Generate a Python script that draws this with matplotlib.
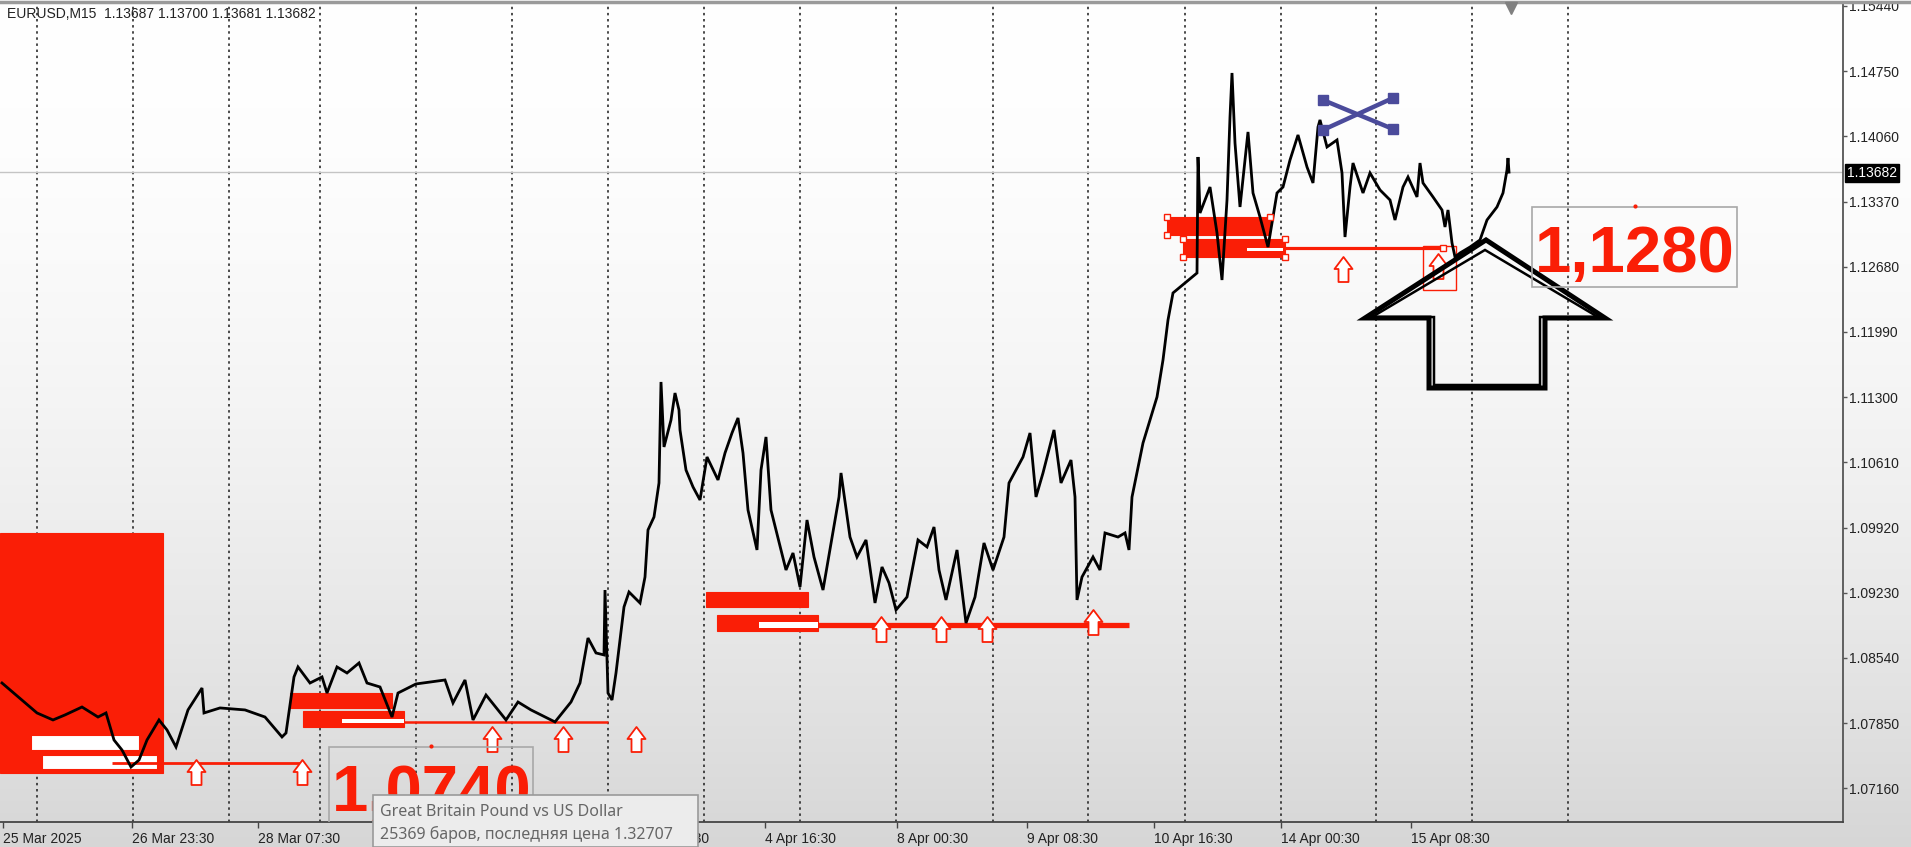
import numpy as np
import matplotlib
matplotlib.use("Agg")
import matplotlib.pyplot as plt
from matplotlib.path import Path
from matplotlib.patches import Rectangle, Polygon

# ---------------- data ----------------
bar_index = [2, 16, 37, 53, 65, 82, 98, 106, 114, 122, 131, 139, 147, 159, 167, 176, 188, 202, 204, 220,
             245, 265, 282, 286, 294, 298, 310, 322, 327, 337, 347, 359, 367, 380, 392, 398, 416, 445, 453, 465,
             473, 486, 506, 518, 531, 555, 571, 580, 588, 596, 604, 605, 608, 612, 616, 624, 629, 640, 645, 648,
             654, 659, 661, 664, 671, 675, 679, 680, 686, 693, 700, 707, 718, 725, 732, 738, 743, 748, 757, 761,
             766, 771, 786, 793, 800, 807, 814, 823, 839, 841, 850, 857, 866, 875, 882, 889, 896, 907, 918, 927,
             934, 939, 946, 957, 966, 975, 984, 993, 1004, 1009, 1023, 1030, 1036, 1043, 1054, 1061, 1071, 1075, 1077, 1082,
             1093, 1100, 1105, 1118, 1125, 1129, 1132, 1143, 1157, 1163, 1168, 1173, 1197, 1198, 1200, 1210, 1217, 1222, 1227, 1230,
             1232, 1235, 1240, 1248, 1253, 1260, 1268, 1277, 1283, 1290, 1298, 1307, 1313, 1318, 1320, 1327, 1337, 1342, 1345, 1350,
             1353, 1363, 1370, 1380, 1390, 1395, 1403, 1408, 1417, 1420, 1423, 1433, 1442, 1445, 1448, 1452, 1455, 1460, 1470, 1480,
             1487, 1497, 1503, 1507, 1508, 1509]
close_price = [1.08275, 1.08148, 1.07958, 1.07884, 1.07937, 1.08021, 1.07915, 1.07958, 1.07672, 1.07566,
               1.07386, 1.07460, 1.07672, 1.07884, 1.07778, 1.07598, 1.07990, 1.08222, 1.07958, 1.08011,
               1.07990, 1.07915, 1.07704, 1.07746, 1.08339, 1.08445, 1.08275, 1.08339, 1.08169, 1.08445,
               1.08381, 1.08487, 1.08275, 1.08233, 1.07915, 1.08169, 1.08265, 1.08307, 1.08064, 1.08307,
               1.07884, 1.08148, 1.07884, 1.08074, 1.07990, 1.07863, 1.08074, 1.08275, 1.08751, 1.08593,
               1.08572, 1.09259, 1.08169, 1.08095, 1.08381, 1.09080, 1.09238, 1.09122, 1.09397, 1.09895,
               1.10032, 1.10392, 1.11461, 1.10773, 1.11059, 1.11344, 1.11164, 1.10953, 1.10529, 1.10350,
               1.10212, 1.10667, 1.10424, 1.10709, 1.10921, 1.11080, 1.10709, 1.10106, 1.09683, 1.10529,
               1.10879, 1.10106, 1.09471, 1.09651, 1.09291, 1.10000, 1.09609, 1.09259, 1.10244, 1.10498,
               1.09820, 1.09609, 1.09789, 1.09122, 1.09503, 1.09334, 1.09048, 1.09185, 1.09789, 1.09715,
               1.09926, 1.09471, 1.09154, 1.09683, 1.08910, 1.09185, 1.09757, 1.09471, 1.09820, 1.10392,
               1.10667, 1.10921, 1.10244, 1.10498, 1.10953, 1.10392, 1.10635, 1.10244, 1.09154, 1.09397,
               1.09609, 1.09471, 1.09863, 1.09820, 1.09863, 1.09683, 1.10243, 1.10815, 1.11302, 1.11694,
               1.12117, 1.12403, 1.12614, 1.13842, 1.13249, 1.13524, 1.13038, 1.12540, 1.13387, 1.14265,
               1.14731, 1.13990, 1.13313, 1.14107, 1.13461, 1.13207, 1.12889, 1.13461, 1.13524, 1.13810,
               1.14075, 1.13736, 1.13567, 1.14159, 1.14234, 1.13948, 1.14022, 1.13673, 1.12995, 1.13524,
               1.13778, 1.13461, 1.13673, 1.13493, 1.13387, 1.13175, 1.13524, 1.13630, 1.13419, 1.13778,
               1.13567, 1.13419, 1.13281, 1.13101, 1.13281, 1.12932, 1.12784, 1.12826, 1.12889, 1.12964,
               1.13175, 1.13313, 1.13461, 1.13704, 1.13831, 1.13682]

price_ticks = [1.15440, 1.14750, 1.14060, 1.13370, 1.12680, 1.11990, 1.11300,
               1.10610, 1.09920, 1.09230, 1.08540, 1.07850, 1.07160]
time_tick_bars = [3, 132, 258, 638, 765, 897, 1027, 1154, 1281, 1411]
time_tick_labels = ["25 Mar 2025", "26 Mar 23:30", "28 Mar 07:30", "3 Apr 08:30", "4 Apr 16:30",
                    "8 Apr 00:30", "9 Apr 08:30", "10 Apr 16:30", "14 Apr 00:30", "15 Apr 08:30"]
day_separator_bars = [37, 133, 229, 320, 416, 512, 608, 704, 800, 896, 993, 1088, 1185,
                      1281, 1376, 1472, 1568]
last_price = 1.13682
header_text = "EURUSD,M15  1.13687 1.13700 1.13681 1.13682"
tooltip_line1 = "Great Britain Pound vs US Dollar"
tooltip_line2 = "25369 баров, последняя цена 1.32707"

# red zones
zone_x0 = [0, 290, 303, 706, 717, 1167, 1183]
zone_x1 = [163, 392, 404, 808, 818, 1270, 1285]
zone_top = [1.09863, 1.08169, 1.07979, 1.09238, 1.08995, 1.13207, 1.12974]
zone_bot = [1.07323, 1.08011, 1.07810, 1.09080, 1.08826, 1.13016, 1.12784]
# white strips inside zones
strip_x0 = [342, 759, 1247]
strip_x1 = [404, 818, 1283]
strip_top = [1.07894, 1.08921, 1.12879]
strip_bot = [1.07852, 1.08857, 1.12847]
# white bars with red outline inside the big zone
wbar_x0 = [31, 42]
wbar_x1 = [140, 158]
wbar_top = [1.07725, 1.07513]
wbar_bot = [1.07556, 1.07355]
# horizontal levels
level_x0 = [112, 404, 818, 1285]
level_x1 = [302, 608, 1129, 1443]
level_price = [1.07429, 1.07863, 1.08894, 1.12874]
# up arrows
arrow_bar = [196, 302, 492, 563, 636, 881, 941, 987, 1093, 1343, 1438]
arrow_price = [1.07333, 1.07333, 1.07683, 1.07683, 1.07683, 1.08847, 1.08847, 1.08847,
               1.08921, 1.12657, 1.12688]
# cross mark
cross_bar = [1323, 1393]
cross_price_a = [1.14128, 1.14466]
cross_price_b = [1.14445, 1.14138]
# big hand-drawn arrow outline
big_arrow_bar = [1486, 1605, 1545, 1545, 1429, 1429, 1365]
big_arrow_price = [1.12964, 1.12138, 1.12138, 1.11397, 1.11397, 1.12138, 1.12138]
big_arrow2_bar = [1485, 1598, 1540, 1540, 1434, 1434, 1372]
big_arrow2_price = [1.12858, 1.12148, 1.12148, 1.11429, 1.11429, 1.12148, 1.12148]
# price text labels
label_text = ["1,1280", "1,0740"]
label_bar = [1535, 332]
label_price = [1.12625, 1.06921]
label_box_x0 = [1532, 329]
label_box_x1 = [1737, 533]
label_box_top = [1.13313, 1.07598]
label_box_bot = [1.12466, 1.06700]

# ---------------- figure ----------------
W, H = 1911, 847
RED = "#fa1e06"
fig = plt.figure(figsize=(W / 100, H / 100), dpi=100)

bgax = fig.add_axes([0, 0, 1, 1], zorder=-10)
t = np.linspace(0, 1, 400)
g = 1 - 0.16 * t ** 1.8
bgax.imshow(np.dstack([g, g, g]).reshape(400, 1, 3), aspect="auto", extent=[0, 1, 0, 1],
            origin="upper")
bgax.set_axis_off()

ax_left, ax_right, ax_top, ax_bottom = 0, 1843, 4, 822
ax = fig.add_axes([ax_left / W, 1 - ax_bottom / H, (ax_right - ax_left) / W, (ax_bottom - ax_top) / H])
ax.patch.set_alpha(0)
ax.set_xlim(0, 1843)
ymin, ymax = 1.06804, 1.15461
ax.set_ylim(ymin, ymax)

for s in ["left", "top"]:
    ax.spines[s].set_visible(False)
ax.spines["right"].set_color("#555555")
ax.spines["right"].set_linewidth(1.3)
ax.spines["bottom"].set_color("#444444")
ax.spines["bottom"].set_linewidth(1.3)

ax.yaxis.tick_right()
ax.set_yticks(price_ticks)
ax.set_yticklabels([f"{p:.5f}" for p in price_ticks])
ax.tick_params(axis="y", length=3, width=1, color="#555555", pad=1.5, labelsize=10,
               labelcolor="#222222")
ax.set_xticks(time_tick_bars)
ax.set_xticklabels(time_tick_labels)
for lab in ax.get_xticklabels():
    lab.set_horizontalalignment("left")
ax.tick_params(axis="x", length=4, width=1, color="#444444", pad=3, labelsize=10,
               labelcolor="#222222")
for lab in ax.get_xticklabels() + ax.get_yticklabels():
    lab.set_fontfamily("Liberation Sans")

# day separators
ax.vlines(day_separator_bars, ymin, ymax, colors="#1a1a1a", linestyles=(0, (1.6, 2.4)),
          linewidth=1.1, zorder=1)
# last price line
ax.axhline(last_price, color="#c4c4c4", lw=1.0, zorder=1)

# zones
for x0, x1, tp, bt in zip(zone_x0, zone_x1, zone_top, zone_bot):
    ax.add_patch(Rectangle((x0, bt), x1 - x0, tp - bt, fc=RED, ec=RED, lw=0.8, zorder=2))
for x0, x1, tp, bt in zip(wbar_x0, wbar_x1, wbar_top, wbar_bot):
    ax.add_patch(Rectangle((x0, bt), x1 - x0, tp - bt, fc="white", ec=RED, lw=1.5, zorder=2.1))
for x0, x1, tp, bt in zip(strip_x0, strip_x1, strip_top, strip_bot):
    ax.add_patch(Rectangle((x0, bt), x1 - x0, tp - bt, fc="white", ec="none", zorder=2.1))
level_width = [2.0, 1.8, 3.8, 2.3]
for x0, x1, p, lw in zip(level_x0, level_x1, level_price, level_width):
    ax.plot([x0, x1], [p, p], color=RED, lw=lw, solid_capstyle="butt", zorder=2.2)

# handles on the last zone
hx = [zone_x0[5], zone_x0[5], zone_x1[5], zone_x0[6], zone_x0[6], zone_x1[6], zone_x1[6], level_x1[3]]
hy = [zone_top[5], zone_bot[5], zone_top[5], zone_top[6], zone_bot[6], zone_top[6], zone_bot[6], level_price[3]]
ax.plot(hx, hy, ls="none", marker="s", ms=4, mfc="white", mec=RED, mew=1, zorder=4)

# selection box around the last arrow
ax.add_patch(Rectangle((1423, 1.12434), 33, 1.12900 - 1.12434, fc="none", ec=RED, lw=1, zorder=2.3))

# up arrows
arrow_path = Path([(0, 12.5), (9, 0.5), (5, 0.5), (5, -12.5), (-5, -12.5), (-5, 0.5), (-9, 0.5), (0, 12.5)],
                  [Path.MOVETO] + [Path.LINETO] * 6 + [Path.CLOSEPOLY])
ax.plot(arrow_bar, arrow_price, ls="none", marker=arrow_path, ms=18, mfc="white", mec=RED,
        mew=1.3, zorder=2.4)

# price line
ax.plot(bar_index, close_price, color="black", lw=2.0, zorder=3, solid_joinstyle="miter")

# cross mark
CROSS = "#4b4b9b"
ax.plot(cross_bar, cross_price_a, color=CROSS, lw=3.2, zorder=5)
ax.plot(cross_bar, cross_price_b, color=CROSS, lw=3.2, zorder=5)
ax.plot(cross_bar + cross_bar, cross_price_a + cross_price_b, ls="none", marker="s", ms=7,
        color=CROSS, zorder=5)

# big arrow outline
ax.add_patch(Polygon(list(zip(big_arrow_bar, big_arrow_price)), closed=True, fc="none", ec="black",
                     lw=3.6, joinstyle="miter", zorder=6))
ax.add_patch(Polygon(list(zip(big_arrow2_bar, big_arrow2_price)), closed=True, fc="none", ec="black",
                     lw=1.8, joinstyle="miter", zorder=6))

# price text labels
for txt, xb, pb, x0, x1, tp, bt in zip(label_text, label_bar, label_price, label_box_x0,
                                      label_box_x1, label_box_top, label_box_bot):
    ax.add_patch(Rectangle((x0, bt), x1 - x0, tp - bt, fc="none", ec="#a8a8a8", lw=1.2, zorder=6))
    ax.text(xb, pb, txt, color=RED, fontsize=47, fontweight="bold", family="Liberation Sans",
            ha="left", va="baseline", zorder=7, clip_on=True)
    ax.plot([(x0 + x1) / 2], [tp + 0.0001], marker="o", ms=2, color=RED, zorder=7)

# header
fig.text(7 / W, 1 - 14 / H, header_text, fontsize=10, family="Liberation Sans", color="#222222",
         va="center", ha="left")
# top border and chart-shift marker
fig.add_artist(plt.Line2D([0, 1], [1 - 2 / H, 1 - 2 / H], color="#9a9a9a", lw=2.5))
fig.add_artist(plt.Line2D([1511 / W], [1 - 8 / H], marker="v", ms=8, color="#808080", ls="none"))

# last price badge
fig.text(1847 / W, 1 - 173 / H, f"{last_price:.5f}", fontsize=10, family="Liberation Sans",
         color="white", va="center", ha="left",
         bbox=dict(boxstyle="square,pad=0.15", fc="black", ec="black"))

# tooltip
fig.add_artist(Rectangle((373 / W, 0), (698 - 373) / W, (847 - 795) / H, transform=fig.transFigure,
                         fc="#ececec", ec="#9a9a9a", lw=1.2, zorder=20))
fig.text(380 / W, 1 - 812 / H, tooltip_line1, fontsize=11.5, family="Noto Sans", color="#666666",
         va="center", ha="left", zorder=21)
fig.text(380 / W, 1 - 834 / H, tooltip_line2, fontsize=11.5, family="Noto Sans", color="#666666",
         va="center", ha="left", zorder=21)

fig.savefig("out.png", dpi=100)
